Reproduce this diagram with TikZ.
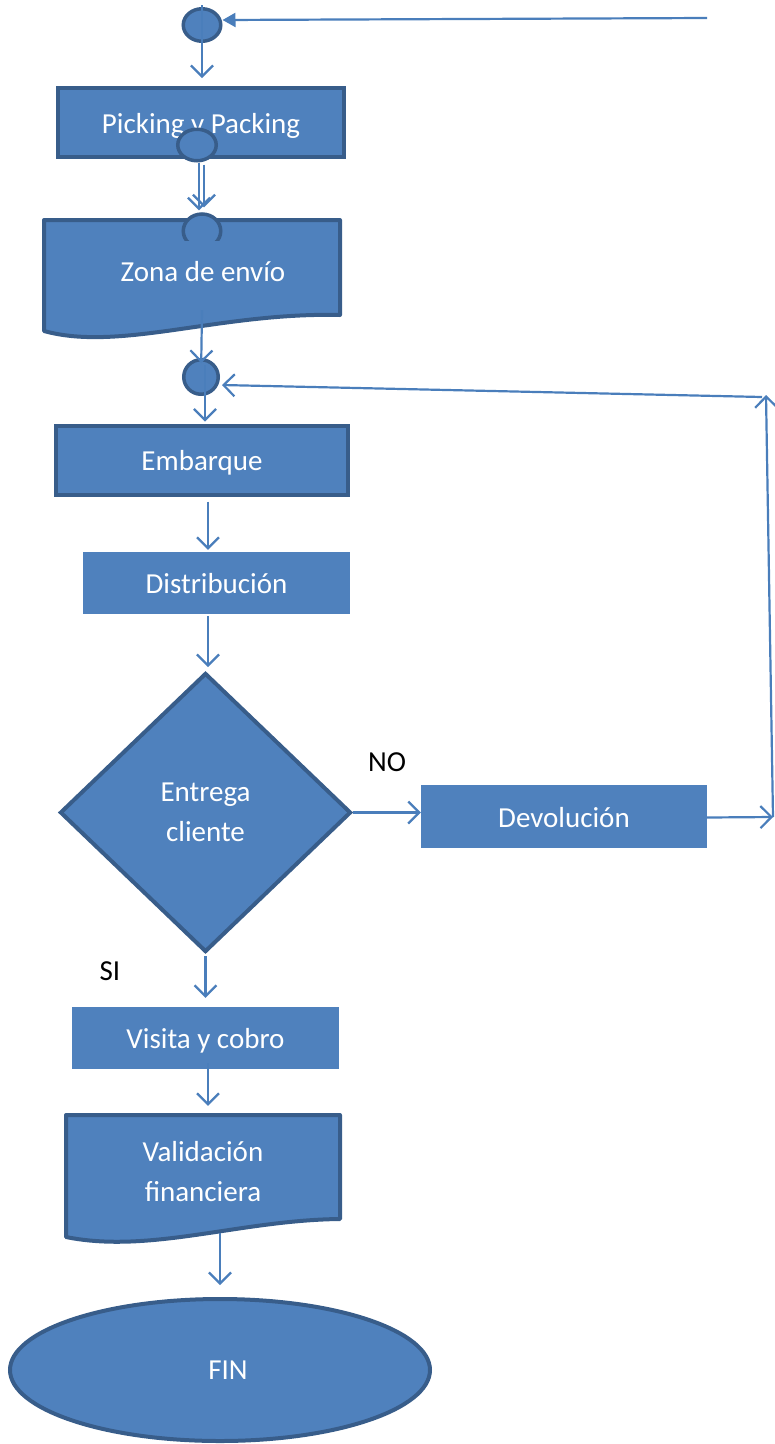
\documentclass[tikz,border=0pt]{standalone}
\usepackage{fontspec}
\setmainfont{Carlito}
\usetikzlibrary{arrows.meta,shapes.geometric}
\definecolor{fillb}{HTML}{4F81BD}
\definecolor{edgeb}{HTML}{385D8A}
\definecolor{lineb}{HTML}{4A7EBB}
\begin{document}
\begin{tikzpicture}[x=1pt,y=-1pt,
  txt/.style={text=white,font=\fontsize{29}{40}\selectfont,align=center,inner sep=0pt},
  one/.style={text height=24pt,text depth=3pt},
  box/.style={txt,one,rectangle,fill=fillb,draw=edgeb,line width=4pt},
  flat/.style={txt,one,rectangle,fill=fillb},
  conn/.style={ellipse,fill=fillb,draw=edgeb,line width=3.5pt,inner sep=0pt},
  doc/.style={fill=fillb,draw=edgeb,line width=4pt,line join=round},
  arr/.style={draw=lineb,line width=2.2pt,-{Straight Barb[length=11pt,width=22pt]}},
  lbl/.style={text=black,font=\fontsize{29}{40}\selectfont,inner sep=0pt}
]
\useasboundingbox (0,0) rectangle (775,1444);

% shapes
\node[conn,minimum width=37.5,minimum height=32.5] (c1) at (202,25) {};
\node[box,minimum width=286,minimum height=69] (pick) at (201,122.5) {Picking y Packing};
\node[conn,minimum width=38.5,minimum height=31.5] (c2) at (197,145) {};

\filldraw[doc] (44,220) -- (340,220) -- (340,315) .. controls (220,312) and (120,352) .. (44,331) -- cycle;
\node[txt,minimum height=76] (zona) at (203,272) {Zona de envío};
\begin{scope}
  \clip (0,0) rectangle (775,240);
  \node[conn,minimum width=37.5,minimum height=34] (c2b) at (202,231) {};
\end{scope}

\node[conn,minimum width=34.5,minimum height=34.5] (c3) at (201,377) {};
\node[box,minimum width=292,minimum height=69] (emb) at (202,460) {Embarque};
\node[flat,minimum width=267,minimum height=62] (dist) at (216.5,583) {Distribución};
\node[txt,shape=diamond,fill=fillb,draw=edgeb,line width=4pt,minimum width=291,minimum height=279] (dia) at (205.5,812.5) {Entrega\\cliente};
\node[flat,minimum width=286,minimum height=63] (dev) at (564,816.5) {Devolución};
\node[flat,minimum width=267,minimum height=62] (vis) at (205.5,1038) {Visita y cobro};
\filldraw[doc] (66,1115) -- (340,1115) -- (340,1219) .. controls (240,1220) and (150,1254) .. (66,1237) -- cycle;
\node[txt,minimum height=122] (val) at (203,1172) {Validación\\financiera};
\node[txt,ellipse,fill=fillb,draw=edgeb,line width=4pt,minimum width=420,minimum height=142] (fin) at (220,1370) {\hspace*{16pt}FIN};

\node[lbl] (no) at (387,762) {NO};
\node[lbl] (si) at (110,971) {SI};

% free ends
\coordinate (t1) at (707,18);
\coordinate (r1) at (773,817);
\coordinate (r2) at (766,395);
\coordinate (r3) at (762,397);

% connectors
\draw[draw=lineb,line width=2.2pt,-{Triangle[length=13pt,width=14pt]}] (t1) -- ([yshift=5]c1.east);
\draw[arr,shorten >=8pt,shorten <=-2pt] (c1.north) -- (c1.north |- pick.north);
\draw[arr] ([xshift=2]c2.south) -- ([xshift=-3,yshift=2]c2b.north);
\draw[arr] ([xshift=7,yshift=-2]c2.south) -- ([xshift=2,yshift=5]c2b.north);
\draw[arr,shorten >=14pt] ([xshift=-1]zona.south) -- (c3.center);
\draw[arr,shorten >=2pt] ([xshift=4,yshift=12]c3.center) -- ([xshift=4]c3.center |- emb.north);
\draw[arr,shorten >=2pt,shorten <=5pt] ([xshift=6]emb.south) -- ([xshift=6]emb.south |- dist.north);
\draw[arr,shorten >=4pt,shorten <=2pt] ([xshift=6]emb.south |- dist.south) -- ([xshift=6]emb.south |- dia.north);
\draw[arr] (dia.east) -- (dia.east -| dev.west);
\draw[arr] ([yshift=-1]dev.east) -- (r1);
\draw[arr] (r1) -- (r2);
\draw[arr] (r3) -- ([xshift=2,yshift=-8]c3.east);
\draw[arr,shorten >=9pt,shorten <=2pt] (dia.south) -- (dia.south |- vis.north);
\draw[arr,shorten >=5pt] ([xshift=2.5,yshift=6]vis.south) -- ([xshift=2.5]vis.south |- val.north);
\draw[arr,shorten >=12pt] ([xshift=17]val.south) -- ([xshift=17]val.south |- fin.north);
\end{tikzpicture}
\end{document}
